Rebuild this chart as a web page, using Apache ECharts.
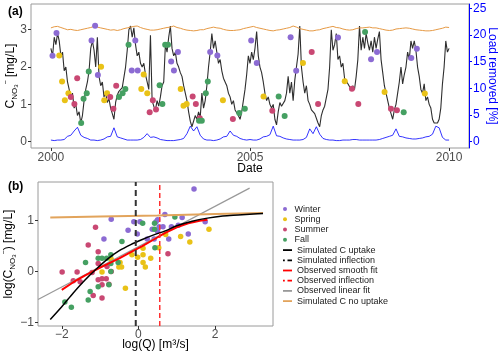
<!DOCTYPE html>
<html>
<head>
<meta charset="utf-8">
<script src="https://cdn.jsdelivr.net/npm/echarts@6/dist/echarts.min.js"></script>
<style>
  html, body { margin: 0; padding: 0; background: #fff; }
  #chart { width: 500px; height: 357px; }
</style>
</head>
<body>
<div id="chart"></div>
<script>
// ---- panel (a): time series, half-month steps from 2000.0 ----
const concStart = 2000;
const concStep = 1 / 24;
const concVals = [
  2.5, 2.3, 2.8, 2.6, 2.9, 2.7, 2.3, 2.4, 1.9, 2.0, 1.6, 1.4, 1.2, 1.3, 0.9, 1.0, 0.7, 0.8, 0.5, 0.7, 1.1, 1.4, 1.6, 1.9,
  2.5, 2.7, 2.45, 2.0, 2.8, 1.75, 1.5, 1.6, 1.2, 1.3, 1.05, 1.15, 0.9, 0.75, 0.6, 1.05, 1.25, 1.35, 1.3, 1.45, 1.4, 2.0, 2.45, 3.0,
  3.1, 2.8, 3.05, 2.6, 2.3, 2.4, 2.1, 2.0, 2.1, 1.8, 1.6, 1.4, 2.85, 1.1, 0.95, 0.85, 1.1, 0.95, 1.2, 1.5, 1.6, 2.6, 2.4, 2.8,
  3.1, 2.5, 2.3, 2.4, 2.1, 2.0, 1.85, 1.75, 1.5, 1.3, 1.1, 0.8, 0.55, 0.4, 0.45, 0.7, 0.6, 0.8, 0.65, 1.3, 0.9, 1.1, 1.5, 2.0,
  2.4, 2.9, 2.5, 2.7, 2.4, 2.1, 2.2, 1.9, 1.7, 1.75, 1.5, 1.3, 1.2, 1.0, 1.1, 0.85, 0.9, 0.7, 0.6, 0.8, 1.1, 1.4, 1.8, 2.3,
  2.1, 2.4, 2.2, 2.5, 2.95, 2.3, 2.0, 1.85, 1.6, 1.3, 1.1, 1.2, 1.0, 0.9, 1.0, 0.6, 0.45, 0.8, 1.05, 0.95, 0.9, 1.1, 1.3, 1.75,
  1.3, 1.6, 1.1, 1.65, 2.0, 2.35, 3.1, 2.0, 1.6, 1.3, 1.5, 1.1, 1.0, 0.85, 0.9, 0.75, 0.8, 0.5, 0.4, 0.7, 0.85, 0.95, 0.9, 1.4,
  2.0, 3.0, 2.45, 2.6, 2.9, 2.2, 2.3, 2.0, 2.1, 1.7, 1.65, 1.55, 1.6, 1.4, 1.5, 1.4, 1.75, 2.2, 3.1, 2.45, 2.8, 2.5, 2.9, 2.65,
  2.45, 2.7, 2.4, 2.8, 2.5, 2.75, 2.95, 2.2, 1.85, 1.5, 1.3, 1.1, 0.9, 0.75, 0.6, 0.85, 1.0, 1.3, 1.6, 2.0, 1.55, 1.8, 2.0, 2.4,
  2.2, 2.7, 2.5, 2.7, 2.45, 2.0, 1.75, 1.4, 1.3, 1.55, 1.1, 1.2, 1.0, 0.9, 0.6, 0.5, 0.55, 0.5, 0.6, 0.9, 1.55, 2.0, 2.7, 2.4,
  2.5
];

// monthly steps from 2000.0
const monthStep = 1 / 12;
const noUptakeVals = [
  3.05, 3.08, 3.09, 3.06, 3.03, 3.0, 3.01, 2.99, 2.98, 3.0, 3.02, 3.04,
  3.06, 3.09, 3.07, 3.05, 3.03, 3.01, 2.99, 3.0, 2.98, 3.0, 3.03, 3.05,
  3.07, 3.09, 3.1, 3.06, 3.03, 3.01, 2.99, 2.99, 3.0, 3.02, 3.04, 3.06,
  3.07, 3.1, 3.06, 3.04, 3.01, 2.99, 2.98, 2.97, 2.98, 3.0, 3.0, 3.03,
  3.05, 3.07, 3.05, 3.04, 3.01, 2.99, 2.98, 2.98, 2.99, 3.0, 3.03, 3.05,
  3.07, 3.09, 3.06, 3.04, 3.02, 3.0, 2.98, 2.97, 2.99, 3.0, 3.02, 3.04,
  3.06, 3.1, 3.07, 3.03, 3.01, 2.99, 2.97, 2.97, 2.99, 3.0, 3.03, 3.05,
  3.07, 3.09, 3.06, 3.05, 3.02, 3.0, 2.99, 3.0, 3.03, 3.05, 3.05, 3.06,
  3.07, 3.05, 3.05, 3.03, 3.01, 2.99, 2.98, 2.99, 3.02, 3.03, 3.04, 3.05,
  3.04, 3.02, 3.0, 2.99, 2.98, 2.97, 2.97, 2.98, 3.0, 3.02, 3.04, 3.07,
  3.06
];
const loadRemovedVals = [
  0.3, 0.2, 0.3, 0.3, 0.4, 1.0, 1.2, 2.0, 2.7, 1.2, 0.8, 0.6,
  0.3, 0.3, 0.2, 0.3, 0.5, 0.9, 1.0, 2.6, 0.9, 0.7, 0.5, 0.3,
  0.3, 0.3, 0.3, 0.4, 0.8, 1.5, 0.8, 0.9, 0.7, 0.4, 0.3, 0.2,
  0.2, 0.2, 0.3, 0.4, 0.6, 1.5, 2.9, 2.0, 2.8, 1.2, 0.5, 0.3,
  0.3, 0.2, 0.3, 0.5, 0.9, 1.0, 2.0, 1.2, 1.0, 0.6, 0.4, 0.3,
  0.4, 0.3, 0.3, 0.5, 0.9, 1.0, 1.3, 2.9, 1.1, 1.0, 0.7, 0.5,
  0.4, 0.3, 0.3, 0.3, 0.4, 0.8, 2.4, 1.5, 2.8, 1.4, 0.6, 0.4,
  0.3, 0.3, 0.2, 0.2, 0.3, 0.3, 0.3, 0.4, 0.4, 0.3, 0.3, 0.3,
  0.3, 0.3, 0.3, 0.4, 0.6, 0.8, 1.0, 1.2, 2.4, 1.0, 0.9, 0.7,
  0.6, 0.5, 0.5, 0.6, 0.7, 0.9, 1.0, 1.4, 2.9, 2.6, 0.8, 0.3,
  0.3
];

// observed samples [decimal year, mg/L]
const winterA = [[2000.04, 2.30], [2000.14, 2.91], [2001.02, 2.71], [2001.11, 3.11], [2001.18, 1.79], [2002.03, 1.91], [2002.12, 2.71], [2002.18, 1.91], [2003.02, 2.15], [2003.09, 1.91], [2003.19, 2.40], [2004.0, 2.40], [2004.18, 2.31], [2005.03, 2.71], [2005.17, 2.11], [2006.02, 2.80], [2006.16, 1.90], [2007.21, 2.79], [2008.04, 2.21], [2008.19, 2.40], [2009.05, 2.24], [2009.19, 2.49]];
const springA = [[2000.21, 2.31], [2000.28, 1.61], [2000.35, 1.11], [2000.44, 1.30], [2001.26, 2.01], [2001.34, 1.11], [2001.41, 1.30], [2002.27, 1.41], [2002.33, 1.80], [2002.42, 1.30], [2003.26, 1.41], [2003.33, 0.96], [2003.41, 1.01], [2004.32, 1.11], [2005.34, 1.21], [2006.33, 2.11], [2007.38, 1.62], [2008.38, 1.33], [2009.39, 1.29]];
const summerA = [[2000.50, 1.20], [2000.59, 1.01], [2000.66, 1.70], [2001.49, 1.20], [2001.57, 0.88], [2001.64, 1.50], [2002.48, 0.79], [2002.56, 1.11], [2002.64, 0.86], [2003.56, 1.21], [2003.64, 1.01], [2003.74, 0.63], [2004.57, 0.61], [2005.56, 0.83], [2006.55, 2.40], [2006.71, 1.01], [2007.56, 1.42], [2007.72, 1.01], [2008.54, 0.88], [2008.69, 0.84]];
const fallA = [[2000.76, 0.50], [2000.82, 1.15], [2000.90, 1.30], [2000.95, 1.88], [2001.71, 1.20], [2001.80, 1.30], [2001.87, 1.41], [2001.95, 2.60], [2002.73, 1.51], [2002.80, 1.01], [2002.87, 2.60], [2002.94, 2.60], [2003.72, 0.56], [2003.79, 0.56], [2003.89, 1.30], [2003.94, 1.61], [2004.73, 0.77], [2004.87, 0.88], [2005.72, 1.21], [2005.87, 0.69], [2007.89, 2.94], [2008.86, 0.79]];

// ---- panel (b): log(C) vs log(Q) ----
const winterB = [[-0.71, 1.03], [-0.90, 0.64], [-0.27, 0.81], [-0.12, 0.98], [0.04, 0.98], [-0.03, 0.74], [0.23, 0.64], [0.36, 0.83], [0.46, 0.98], [0.69, 1.12], [1.14, 1.06], [0.50, 1.02], [0.54, 0.88], [0.64, 0.88], [0.86, 0.88], [1.04, 0.91], [1.74, 0.98], [1.30, 0.74], [0.79, 0.64], [0.41, 0.64], [0.50, 0.79], [1.45, 1.62]];
const springB = [[-0.95, -0.01], [-0.71, 0.24], [-0.51, 0.09], [-0.44, 0.09], [-0.48, 0.18], [-0.34, -0.33], [-0.17, 0.33], [-0.02, 0.28], [0.12, 0.46], [0.12, 0.33], [0.12, 0.18], [0.18, 0.09], [0.32, 0.26], [0.53, 0.47], [0.71, 0.73], [1.10, 0.69], [1.34, 0.58], [1.84, 0.83]];
const summerB = [[-1.99, -0.01], [-1.60, -0.01], [-1.70, -0.18], [-1.52, -0.20], [-1.31, 0.52], [-1.12, 0.87], [-1.05, 0.39], [-1.05, -0.16], [-0.95, -0.14], [-0.84, -0.14], [-1.18, -0.47], [-0.95, -0.52], [-0.95, -0.26], [-0.77, -0.25], [-1.21, -0.02], [-1.05, 0.16], [-0.82, 0.10], [-0.71, 0.0], [0.77, 0.35]];
const fallB = [[-1.92, -0.60], [-1.75, -0.70], [-1.38, 0.18], [-1.26, -0.39], [-1.31, -0.56], [-1.05, 0.26], [-0.95, 0.26], [-0.83, 0.26], [-0.72, 0.33], [-0.72, 0.16], [-1.05, -0.30], [-0.77, -0.26], [-0.72, 0.0], [-0.53, 0.18], [-0.43, 0.59], [0.11, 0.95], [0.42, 0.95], [0.43, 0.47], [0.95, 1.07], [0.42, 0.83]];

const simUptakeX = [-2.3, -2.0, -1.7, -1.4, -1.1, -0.8, -0.5, -0.2, 0.1, 0.4, 0.7, 1.0, 1.4, 1.8, 2.2, 2.6, 3.0, 3.25];
const simUptakeY = [-0.94, -0.69, -0.42, -0.17, 0.05, 0.25, 0.41, 0.53, 0.63, 0.72, 0.80, 0.90, 0.99, 1.05, 1.09, 1.11, 1.13, 1.14];
const obsSmoothX = [-2.0, -1.7, -1.4, -1.1, -0.8, -0.5, -0.2, 0.1, 0.4, 0.7, 1.0, 1.3, 1.6, 1.8];
const obsSmoothY = [-0.36, -0.21, -0.08, 0.04, 0.15, 0.26, 0.38, 0.50, 0.63, 0.76, 0.87, 0.95, 1.0, 1.02];
const obsLinearX = [-2.62, 2.9];
const obsLinearY = [-0.55, 1.64];
const noUptakeX = [-2.3, -1.0, 0.5, 2.0, 3.25];
const noUptakeY = [1.06, 1.08, 1.10, 1.13, 1.15];
const simInflection = -0.07;
const obsInflection = 0.556;

const seasons = ['Winter', 'Spring', 'Summer', 'Fall'];
const seasonColor = { Winter: '#8C6BD3', Spring: '#E9C217', Summer: '#C94873', Fall: '#45A062' };

const FONT = 'Liberation Sans, Arial, sans-serif';
const zip = (xs, ys) => xs.map((x, i) => [x, ys[i]]);
const plain = v => String(v).replace('-', '\u2212');

// axis ranges of panel (b)
const bxMin = -2.62, bxMax = 3.51, byMin = -1.07, byMax = 1.76;

const concData = concVals.map((v, i) => [concStart + i * concStep, v]);
const noUptakeA = noUptakeVals.map((v, i) => [2000 + i * monthStep, v]);
const loadData = loadRemovedVals.map((v, i) => [2000 + i * monthStep, v]);

const hiddenLine = { show: false, onZero: false };
const tickStyle = { length: 3, lineStyle: { color: '#333', width: 1 } };
const labelStyle = { fontSize: 12, color: '#4d4d4d', fontFamily: FONT, formatter: plain };
const subRich = {
  c: { fontSize: 12, lineHeight: 16, fontFamily: FONT, color: '#000' },
  s: { fontSize: 8, lineHeight: 8, verticalAlign: 'bottom', fontFamily: FONT, color: '#000' },
  t: { fontSize: 6, lineHeight: 6, verticalAlign: 'bottom', fontFamily: FONT, color: '#000' },
  u: { fontSize: 7, lineHeight: 7, verticalAlign: 'top', fontFamily: FONT, color: '#000' }
};

const chart = echarts.init(document.getElementById('chart'), null, { renderer: 'canvas' });

const seriesA = seasons.map((s, k) => ({
  type: 'scatter', name: s, xAxisIndex: 0, yAxisIndex: 0,
  data: [winterA, springA, summerA, fallA][k],
  symbolSize: 6, itemStyle: { color: seasonColor[s], opacity: 1 }, z: 4
}));
const seriesB = seasons.map((s, k) => ({
  type: 'scatter', name: s, xAxisIndex: 1, yAxisIndex: 2,
  data: [winterB, springB, summerB, fallB][k], clip: false,
  symbolSize: 5.5, itemStyle: { color: seasonColor[s], opacity: 1 }, z: 2
}));

const lineIcon = 'path://M0,0h10v2h-10z';
const dashIcon = 'path://M0,0h2v2h-2z M5,0h5v2h-5z';

chart.setOption({
  animation: false,
  backgroundColor: '#fff',
  textStyle: { fontFamily: FONT },
  grid: [
    { left: 31, top: 4, width: 438, height: 144, show: true, borderColor: '#9a9a9a', borderWidth: 1, outerBoundsMode: 'none', containLabel: false },
    { left: 38, top: 182, width: 235, height: 144, show: true, borderColor: '#9a9a9a', borderWidth: 1, outerBoundsMode: 'none', containLabel: false }
  ],
  xAxis: [
    {
      type: 'value', gridIndex: 0, min: 1999.5, max: 2010.5,
      splitLine: { show: false }, axisLine: hiddenLine,
      axisTick: Object.assign({ customValues: [2000, 2005, 2010] }, tickStyle),
      axisLabel: Object.assign({ customValues: [2000, 2005, 2010], margin: 4 }, labelStyle),
      name: 'Date', nameLocation: 'middle', nameGap: 15, nameMoveOverlap: false,
      nameTextStyle: { fontSize: 12, color: '#000', fontFamily: FONT }
    },
    {
      type: 'value', gridIndex: 1, min: bxMin, max: bxMax,
      splitLine: { show: false }, axisLine: hiddenLine,
      axisTick: Object.assign({ customValues: [-2, 0, 2] }, tickStyle),
      axisLabel: Object.assign({ customValues: [-2, 0, 2], margin: 3 }, labelStyle),
      name: 'log(Q) [m\u00b3/s]', nameLocation: 'middle', nameGap: 13, nameMoveOverlap: false,
      nameTextStyle: { fontSize: 12, color: '#000', fontFamily: FONT }
    }
  ],
  yAxis: [
    {
      type: 'value', gridIndex: 0, min: -0.17, max: 3.69,
      splitLine: { show: false }, axisLine: hiddenLine,
      axisTick: Object.assign({ customValues: [0, 1, 2, 3] }, tickStyle),
      axisLabel: Object.assign({ customValues: [0, 1, 2, 3], margin: 4 }, labelStyle),
      name: '{c|C}{s|NO}{t|3}{u|\u2212}{c| [mg/L]}', nameLocation: 'middle', nameRotate: 90, nameGap: 12,
      nameMoveOverlap: false, nameTextStyle: { rich: subRich }
    },
    {
      type: 'value', gridIndex: 0, position: 'right', min: -1.19, max: 25.83,
      splitLine: { show: false },
      axisLine: { show: true, onZero: false, lineStyle: { color: '#0000FF', width: 1 } },
      axisTick: { customValues: [0, 5, 10, 15, 20, 25], length: 3, lineStyle: { color: '#0000FF' } },
      axisLabel: { customValues: [0, 5, 10, 15, 20, 25], margin: 4, fontSize: 12, color: '#0000FF', fontFamily: FONT, formatter: plain },
      name: 'Load removed [%]', nameLocation: 'middle', nameRotate: -90, nameGap: 17, nameMoveOverlap: false,
      nameTextStyle: { fontSize: 12, color: '#0000FF', fontFamily: FONT }
    },
    {
      type: 'value', gridIndex: 1, min: byMin, max: byMax,
      splitLine: { show: false }, axisLine: hiddenLine,
      axisTick: Object.assign({ customValues: [-1, 0, 1] }, tickStyle),
      axisLabel: Object.assign({ customValues: [-1, 0, 1], margin: 4 }, labelStyle),
      name: '{c|log(C}{s|NO}{t|3}{u|\u2212}{c|) [mg/L]}', nameLocation: 'middle', nameRotate: 90, nameGap: 21,
      nameMoveOverlap: false, nameTextStyle: { rich: subRich }
    }
  ],
  legend: [
    {
      data: seasons.map(s => ({ name: s, icon: 'circle', itemStyle: { color: seasonColor[s], borderWidth: 0 } })),
      orient: 'vertical', left: 283, top: 204, padding: 0, itemWidth: 9, itemHeight: 4, itemGap: 0,
      selectedMode: false,
      textStyle: { fontSize: 9, lineHeight: 10.2, color: '#1a1a1a', fontFamily: FONT }
    },
    {
      data: [
        { name: 'Simulated C uptake', icon: lineIcon, itemStyle: { color: '#000', borderWidth: 0 } },
        { name: 'Simulated inflection', icon: dashIcon, itemStyle: { color: '#000', borderWidth: 0 } },
        { name: 'Observed smooth fit', icon: lineIcon, itemStyle: { color: '#FF0000', borderWidth: 0 } },
        { name: 'Observed inflection', icon: dashIcon, itemStyle: { color: '#FF0000', borderWidth: 0 } },
        { name: 'Observed linear fit', icon: lineIcon, itemStyle: { color: '#999', borderWidth: 0 } },
        { name: 'Simulated C no uptake', icon: lineIcon, itemStyle: { color: '#E2A45C', borderWidth: 0 } }
      ],
      orient: 'vertical', left: 283, top: 245, padding: 0, itemWidth: 9, itemHeight: 2, itemGap: 0,
      selectedMode: false,
      textStyle: { fontSize: 9, lineHeight: 10.2, color: '#1a1a1a', fontFamily: FONT }
    }
  ],
  graphic: [
    { type: 'text', left: 8, top: 6, style: { text: '(a)', font: 'bold 12px ' + FONT, fill: '#000' } },
    { type: 'text', left: 8, top: 181, style: { text: '(b)', font: 'bold 12px ' + FONT, fill: '#000' } }
  ],
  series: [
    {
      type: 'line', name: 'concA', xAxisIndex: 0, yAxisIndex: 0, data: concData,
      symbol: 'none', lineStyle: { color: '#2e2e2e', width: 1.1 }, z: 2
    },
    {
      type: 'line', name: 'noUptakeA', xAxisIndex: 0, yAxisIndex: 0, data: noUptakeA,
      symbol: 'none', lineStyle: { color: '#E69A45', width: 1 }, z: 2
    },
    {
      type: 'line', name: 'loadA', xAxisIndex: 0, yAxisIndex: 1, data: loadData,
      symbol: 'none', lineStyle: { color: '#0000FF', width: 0.8 }, z: 2
    },
    ...seriesA,
    ...seriesB,
    {
      type: 'line', name: 'Observed linear fit', xAxisIndex: 1, yAxisIndex: 2, data: zip(obsLinearX, obsLinearY),
      symbol: 'none', color: '#999', lineStyle: { color: '#999', width: 1.2 }, z: 3
    },
    {
      type: 'line', name: 'Simulated C no uptake', xAxisIndex: 1, yAxisIndex: 2, data: zip(noUptakeX, noUptakeY),
      symbol: 'none', color: '#E2A45C', lineStyle: { color: '#E2A45C', width: 2 }, z: 3
    },
    {
      type: 'line', name: 'Observed smooth fit', xAxisIndex: 1, yAxisIndex: 2, data: zip(obsSmoothX, obsSmoothY),
      symbol: 'none', color: '#FF0000', lineStyle: { color: '#FF0000', width: 2 }, z: 3
    },
    {
      type: 'line', name: 'Simulated C uptake', xAxisIndex: 1, yAxisIndex: 2, data: zip(simUptakeX, simUptakeY),
      symbol: 'none', smooth: 0.3, color: '#000', lineStyle: { color: '#000', width: 1.5 }, z: 4
    },
    {
      type: 'line', name: 'Simulated inflection', xAxisIndex: 1, yAxisIndex: 2,
      data: [[simInflection, byMin], [simInflection, byMax]], symbol: 'none', color: '#000',
      lineStyle: { color: '#333', width: 2, type: [6, 4] }, z: 5
    },
    {
      type: 'line', name: 'Observed inflection', xAxisIndex: 1, yAxisIndex: 2,
      data: [[obsInflection, byMin], [obsInflection, byMax]], symbol: 'none', color: '#FF0000',
      lineStyle: { color: '#FF3030', width: 1.5, type: [5, 3] }, z: 5
    }
  ]
});
</script>
</body>
</html>
